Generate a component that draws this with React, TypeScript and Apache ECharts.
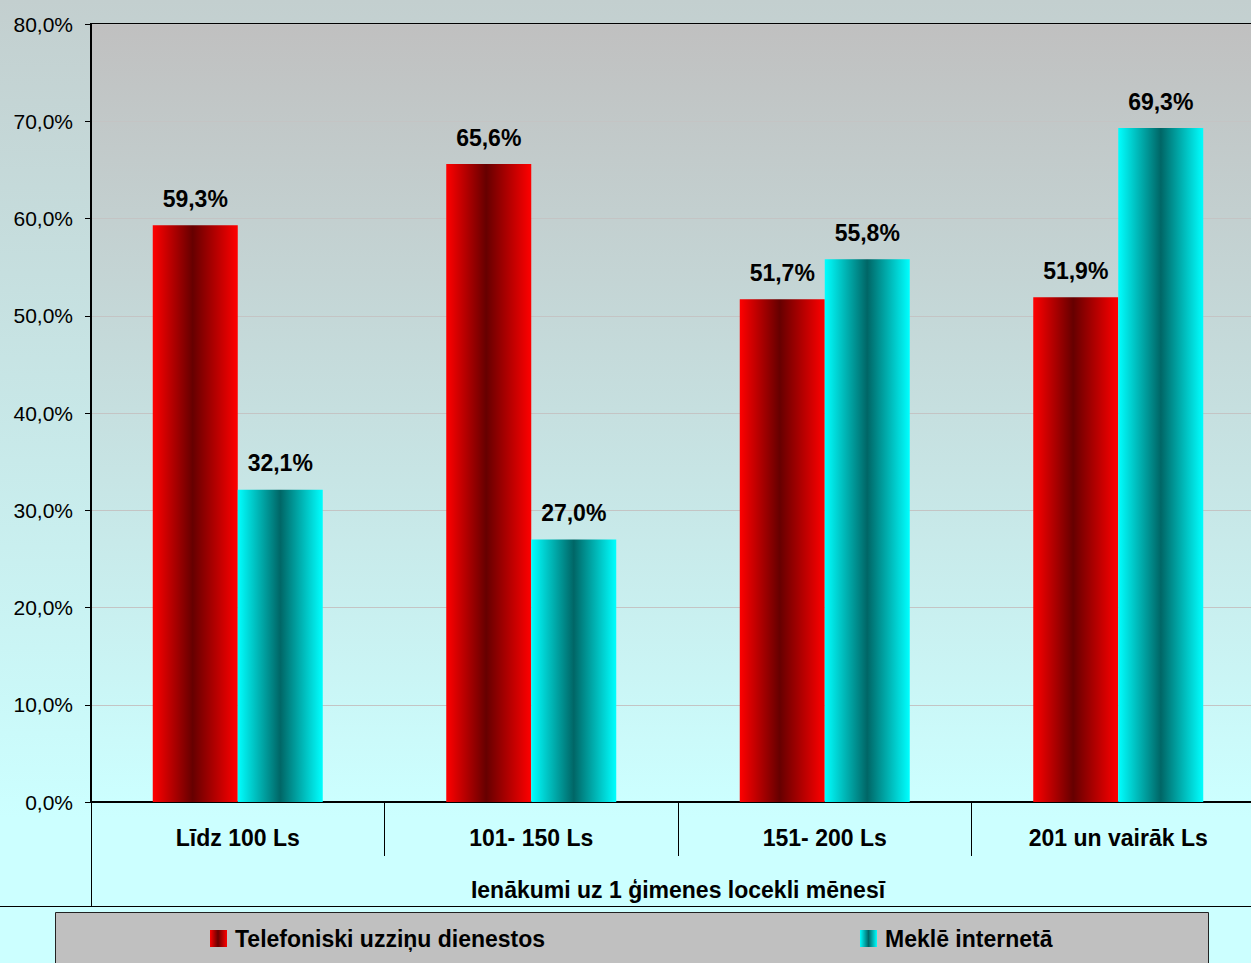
import React, { useEffect, useRef } from "react";
import * as echarts from "echarts";

const categories = ["Līdz 100 Ls", "101- 150 Ls", "151- 200 Ls", "201 un vairāk Ls"];
const seriesNames = ["Telefoniski uzziņu dienestos", "Meklē internetā"];
const phoneValues = [59.3, 65.6, 51.7, 51.9];
const internetValues = [32.1, 27.0, 55.8, 69.3];
const yTicks = [0, 10, 20, 30, 40, 50, 60, 70, 80];
const axisTitle = "Ienākumi uz 1 ģimenes locekli mēnesī";

const fmt = (v: number) => v.toFixed(1).replace(".", ",") + "%";
const FONT = 'Arial, "Liberation Sans", sans-serif';

const redGrad = new echarts.graphic.LinearGradient(0, 0, 1, 0, [
  { offset: 0, color: "#ff0000" },
  { offset: 0.47, color: "#660000" },
  { offset: 1, color: "#ff0000" },
]);
const cyanGrad = new echarts.graphic.LinearGradient(0, 0, 1, 0, [
  { offset: 0, color: "#00ffff" },
  { offset: 0.5, color: "#006666" },
  { offset: 1, color: "#00ffff" },
]);

export default function App() {
  const ref = useRef<HTMLDivElement>(null);
  useEffect(() => {
    if (!ref.current) return;
    const chart = echarts.init(ref.current, undefined, { renderer: "svg" });
    const labelCfg = {
      show: true,
      position: "top",
      distance: 15,
      color: "#000",
      fontFamily: FONT,
      fontWeight: "bold",
      fontSize: 23,
      formatter: (p: any) => fmt(p.value),
    };
    const legendText = { color: "#000", fontSize: 23, fontWeight: "bold", fontFamily: FONT, padding: [0, 0, 0, 3] };
    chart.setOption({
      animation: false,
      backgroundColor: new echarts.graphic.LinearGradient(0, 0, 0, 1, [
        { offset: 0, color: "#c3cfcf" },
        { offset: 0.85, color: "#ccffff" },
        { offset: 1, color: "#ccffff" },
      ]),
      textStyle: { fontFamily: FONT },
      grid: {
        left: 91,
        top: 24,
        width: 1174,
        bottom: 161,
        outerBoundsMode: "none",
        containLabel: false,
        show: true,
        borderColor: "#000",
        borderWidth: 2,
        backgroundColor: new echarts.graphic.LinearGradient(0, 0, 0, 1, [
          { offset: 0, color: "#c0c0c0" },
          { offset: 1, color: "#ccffff" },
        ]),
      },
      xAxis: {
        type: "category",
        data: categories,
        name: axisTitle,
        nameLocation: "middle",
        nameGap: 76,
        nameTextStyle: { color: "#000", fontSize: 23, fontWeight: "bold", fontFamily: FONT },
        axisLine: { lineStyle: { color: "#000", width: 2 } },
        axisTick: { show: true, length: 54, interval: 0, lineStyle: { color: "#000", width: 1 } },
        axisLabel: { color: "#000", fontSize: 23, fontWeight: "bold", fontFamily: FONT, margin: 24, interval: 0 },
      },
      yAxis: {
        type: "value",
        min: yTicks[0],
        max: yTicks[yTicks.length - 1],
        interval: yTicks[1] - yTicks[0],
        axisLine: { show: true, lineStyle: { color: "#000", width: 2 } },
        axisTick: { show: true, length: 6, lineStyle: { color: "#000" } },
        axisLabel: { color: "#000", fontSize: 21, fontFamily: FONT, margin: 18, formatter: (v: number) => fmt(v) },
        splitLine: { show: true, lineStyle: { color: "#c4c4c4", width: 1 } },
      },
      legend: [
        {
          data: [seriesNames[0]],
          left: 205,
          top: 922,
          icon: "rect",
          itemWidth: 17,
          itemHeight: 17,
          textStyle: legendText,
        },
        {
          data: [seriesNames[1]],
          left: 855,
          top: 922,
          icon: "rect",
          itemWidth: 17,
          itemHeight: 17,
          textStyle: legendText,
        },
      ],
      graphic: [
        {
          type: "rect",
          z: -1,
          shape: { x: 55.5, y: 912.5, width: 1153, height: 60 },
          style: { fill: "#c0c0c0", stroke: "#222", lineWidth: 1 },
        },
        {
          type: "line",
          shape: { x1: 0, y1: 906.5, x2: 1251, y2: 906.5 },
          style: { stroke: "#000", lineWidth: 1 },
        },
        {
          type: "line",
          shape: { x1: 91.5, y1: 802, x2: 91.5, y2: 906 },
          style: { stroke: "#000", lineWidth: 1 },
        },
      ],
      series: [
        {
          name: seriesNames[0],
          type: "bar",
          data: phoneValues,
          barWidth: 85,
          barGap: "0%",
          itemStyle: { color: redGrad },
          label: labelCfg,
        },
        {
          name: seriesNames[1],
          type: "bar",
          data: internetValues,
          barWidth: 85,
          barGap: "0%",
          itemStyle: { color: cyanGrad },
          label: labelCfg,
        },
      ],
    });
    return () => chart.dispose();
  }, []);
  return (
    <div style={{ position: "fixed", left: 0, top: 0, width: 1251, height: 963 }}>
      <div ref={ref} style={{ width: 1251, height: 963 }} />
    </div>
  );
}
